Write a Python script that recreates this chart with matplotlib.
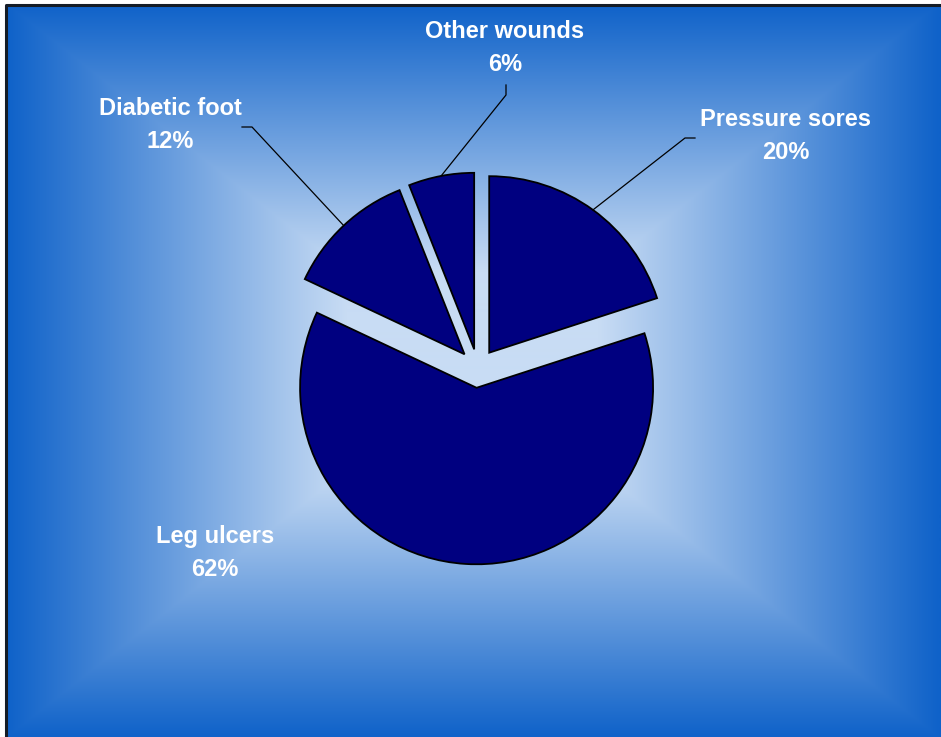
import numpy as np
import matplotlib.pyplot as plt

# wound types, clockwise from 12 o'clock
labels = ['Pressure sores', 'Leg ulcers', 'Diabetic foot', 'Other wounds']
shares = [20, 62, 12, 6]

# layout (pixels from the top-left corner of the image)
W, H = 941, 737
cx, cy, R = 477.8, 368.4, 176.5          # pie centre and radius
label_px = {'Pressure sores': (786, 136), 'Leg ulcers': (215, 553),
            'Diabetic foot': (170, 125), 'Other wounds': (505, 48)}
# leader lines: elbow point and end point next to the label
leader_px = {'Pressure sores': [(685, 138), (695, 138)],
             'Diabetic foot': [(252, 127), (242, 127)],
             'Other wounds': [(506, 95), (506, 85)]}


def to_data(px, py):
    return (px - cx) / R, (cy - py) / R


fig = plt.figure(figsize=(9.41, 7.37), dpi=100)
ax = fig.add_axes([0, 0, 1, 1])

# rectangular "from centre" gradient background
x0, y0 = 7, 5
xs = np.arange(x0, W) + 0.5
ys = np.arange(y0, H) + 0.5
X, Y = np.meshgrid(xs, ys)
gx, gy, hw, hh = 473, 371, 466, 366
t = np.maximum(np.abs(X - gx) / hw, np.abs(Y - gy) / hh)
frac = np.clip((1 - t) / 0.73, 0, 1)[..., None]
edge = np.array([15, 98, 201]) / 255
centre = np.array([200, 220, 244]) / 255
img = edge + frac * (centre - edge)
l, tp = to_data(x0, y0)
r, b = to_data(W, H)
ax.imshow(img, extent=[l, r, b, tp], origin='upper', interpolation='bilinear', zorder=0)

# frame on the left and top
fx, fy = to_data(6, 5)
ax.plot([fx, fx, to_data(W + 5, 0)[0]], [to_data(0, H + 5)[1], fy, fy],
        color='#141c26', lw=2.2, zorder=1, solid_capstyle='butt')

wedges, _ = ax.pie(shares, startangle=90, counterclock=False, radius=1,
                   explode=[0.11] * 4, colors=['#000080'] * 4,
                   wedgeprops=dict(edgecolor='black', linewidth=1.3))
for w in wedges:
    w.set_zorder(3)

for w, lab, val in zip(wedges, labels, shares):
    px, py = label_px[lab]
    tx, ty = to_data(px, py)
    ax.text(tx, ty, f'{lab}\n{val}%', color='white', fontsize=17,
            fontweight='bold', family='Liberation Sans', ha='center',
            va='center', linespacing=1.55, zorder=5)
    if lab in leader_px:
        th = np.deg2rad((w.theta1 + w.theta2) / 2)
        ax0 = w.center[0] + w.r * np.cos(th)
        ay0 = w.center[1] + w.r * np.sin(th)
        pts = [to_data(*p) for p in leader_px[lab]]
        ax.plot([ax0] + [p[0] for p in pts], [ay0] + [p[1] for p in pts],
                color='black', lw=0.9, zorder=4)

ax.set_xlim(to_data(0, 0)[0], to_data(W, 0)[0])
ax.set_ylim(to_data(0, H)[1], to_data(0, 0)[1])
ax.set_aspect('auto')
ax.axis('off')

fig.savefig('out.png', dpi=100)
